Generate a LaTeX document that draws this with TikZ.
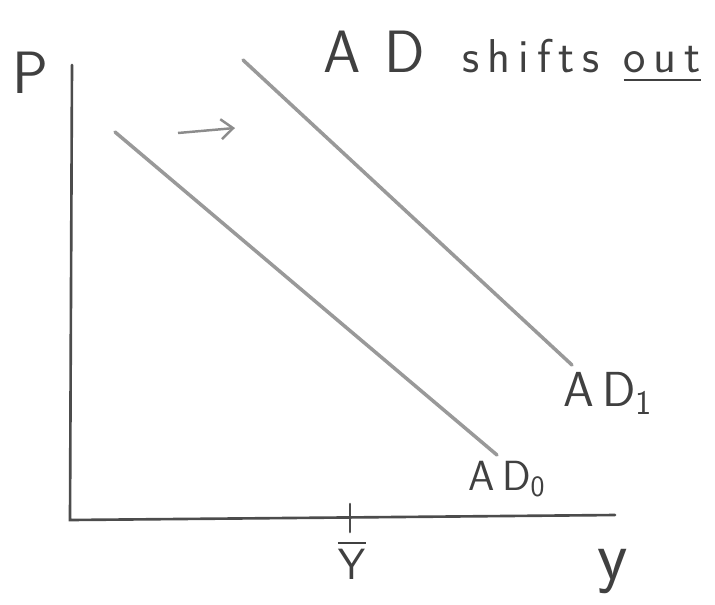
\documentclass[tikz,border=0pt]{standalone}
\usepackage{amsmath,amssymb}
\usetikzlibrary{arrows.meta,positioning}

\begin{document}
\begin{tikzpicture}[x=1cm,y=1cm]
\tikzset{
  axisline/.style={line width=1.5pt,draw=black!70,line cap=round},
  curveline/.style={line width=2pt,draw=black!40,line cap=round},
  shiftarrow/.style={-{Straight Barb[length=2.4mm,width=4mm]},line width=1.4pt,draw=black!45},
  handlabel/.style={inner sep=0pt,text=black!75,font=\sffamily}
}
\useasboundingbox (0,0) rectangle (14.30,12.08);
\coordinate (o) at (1.40,1.68);
\coordinate (p_top) at (1.44,10.78);
\coordinate (y_end) at (12.30,1.78);
\coordinate (ad_0_a) at (2.30,9.44);
\coordinate (ad_0_b) at (9.94,2.98);
\coordinate (ad_1_a) at (4.86,10.88);
\coordinate (ad_1_b) at (11.44,4.78);
\coordinate (arr_a) at (3.56,9.42);
\coordinate (arr_b) at (4.70,9.52);
\coordinate (tick_a) at (7.00,2.00);
\coordinate (tick_b) at (7.00,1.44);
\node[handlabel,font=\sffamily\fontsize{34}{34}\selectfont] (lbl_p) at (0.60,10.62) {P};
\node[handlabel,font=\sffamily\fontsize{40}{40}\selectfont,anchor=base] (lbl_y) at (12.26,0.50) {y};
\node[handlabel,font=\sffamily\fontsize{26}{26}\selectfont] (lbl_ybar) at (7.04,0.88) {$\overline{\mathsf{Y}}$};
\node[handlabel,font=\sffamily\fontsize{24}{24}\selectfont] (lbl_ad_0) at (10.14,2.50) {A\,D\textsubscript{0}};
\node[handlabel,font=\sffamily\fontsize{28}{28}\selectfont] (lbl_ad_1) at (12.16,4.22) {A\,D\textsubscript{1}};
\node[handlabel,font=\sffamily\fontsize{27}{27}\selectfont] (lbl_title) at (10.24,10.94)
  {{\fontsize{34}{34}\selectfont A\hspace{0.4em}D}\hspace{0.8em}s\,h\,i\,f\,t\,s\hspace{0.5em}\underline{o\,u\,t}};
\draw[axisline] (p_top) -- (o) -- (y_end);
\draw[axisline] (tick_a) -- (tick_b);
\draw[curveline] (ad_0_a) -- (ad_0_b);
\draw[curveline] (ad_1_a) -- (ad_1_b);
\draw[shiftarrow] (arr_a) -- (arr_b);
\end{tikzpicture}
\end{document}
